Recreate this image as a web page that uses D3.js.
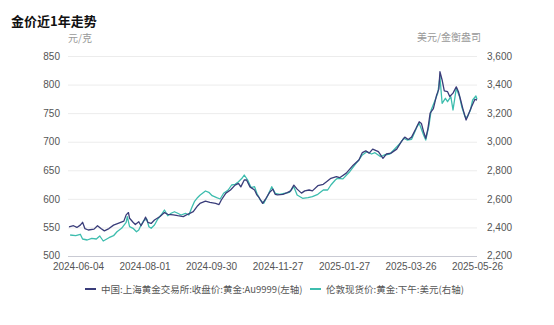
<!DOCTYPE html>
<html>
<head>
<meta charset="utf-8">
<script src="https://cdn.jsdelivr.net/npm/d3@7/dist/d3.min.js"></script>
<style>
  body { margin: 0; background: #fff; }
  svg { font-family: "Noto Sans CJK SC", "Noto Sans", sans-serif; }
</style>
</head>
<body>
<svg id="chart" width="554" height="325"></svg>
<script>
// 金价近1年走势 - two gold price series on dual axes

const xTickLabels = ["2024-06-04", "2024-08-01", "2024-09-30", "2024-11-27", "2025-01-27", "2025-03-26", "2025-05-26"];
const leftTicks = [500, 550, 600, 650, 700, 750, 800, 850];
const rightTicks = [2200, 2400, 2600, 2800, 3000, 3200, 3400, 3600];
const seriesNames = ["中国:上海黄金交易所:收盘价:黄金:Au9999(左轴)", "伦敦现货价:黄金:下午:美元(右轴)"];

// SGE Au9999 close, yuan / gram
const sgeDates = [
  "2024-05-27", "2024-05-31", "2024-06-03", "2024-06-06", "2024-06-08", "2024-06-10", "2024-06-13", "2024-06-18",
  "2024-06-21", "2024-06-24", "2024-06-27", "2024-07-01", "2024-07-05", "2024-07-09", "2024-07-14", "2024-07-16",
  "2024-07-18", "2024-07-19", "2024-07-22", "2024-07-24", "2024-07-27", "2024-07-29", "2024-07-31", "2024-08-02",
  "2024-08-04", "2024-08-07", "2024-08-10", "2024-08-15", "2024-08-19", "2024-08-22", "2024-08-27", "2024-08-31",
  "2024-09-05", "2024-09-09", "2024-09-14", "2024-09-18", "2024-09-20", "2024-09-25", "2024-09-29", "2024-10-04",
  "2024-10-07", "2024-10-09", "2024-10-13", "2024-10-17", "2024-10-21", "2024-10-24", "2024-10-26", "2024-10-29",
  "2024-10-31", "2024-11-03", "2024-11-07", "2024-11-09", "2024-11-11", "2024-11-14", "2024-11-17", "2024-11-20",
  "2024-11-23", "2024-11-25", "2024-11-27", "2024-12-02", "2024-12-06", "2024-12-09", "2024-12-12", "2024-12-15",
  "2024-12-19", "2024-12-22", "2024-12-26", "2024-12-29", "2025-01-03", "2025-01-08", "2025-01-11", "2025-01-15",
  "2025-01-20", "2025-01-23", "2025-01-29", "2025-02-04", "2025-02-09", "2025-02-12", "2025-02-15", "2025-02-18",
  "2025-02-21", "2025-02-26", "2025-03-02", "2025-03-05", "2025-03-09", "2025-03-14", "2025-03-18", "2025-03-21",
  "2025-03-24", "2025-03-27", "2025-03-31", "2025-04-03", "2025-04-05", "2025-04-07", "2025-04-09", "2025-04-11",
  "2025-04-13", "2025-04-16", "2025-04-19", "2025-04-21", "2025-04-22", "2025-04-24", "2025-04-26", "2025-04-29",
  "2025-05-01", "2025-05-04", "2025-05-07", "2025-05-09", "2025-05-11", "2025-05-13", "2025-05-16", "2025-05-18",
  "2025-05-21", "2025-05-24", "2025-05-26"
];
const sgeValues = [
  551, 553, 550, 554, 559, 548, 545.5, 547,
  553, 548, 544, 548, 554, 557, 561, 572,
  576, 566, 559, 555, 560, 553, 560, 568,
  559, 557, 563, 569, 576, 573, 572, 570.5,
  569, 573, 577.5, 588, 592, 596, 594, 592,
  590, 598, 610, 615.5, 624, 627, 621, 633,
  633, 621, 615.5, 607, 602, 592, 601, 611,
  617, 608, 607, 608, 611, 614, 624, 617,
  610, 614, 615.5, 614, 623, 625.5, 630, 636,
  639, 637, 645, 659, 668, 681, 684, 680,
  687, 682.5, 671, 678.5, 680, 687, 700, 708,
  704, 708, 723, 735, 732, 717.5, 706, 723,
  750, 758, 782, 792, 822.5, 808, 789, 787.5,
  779, 785, 796, 787.5, 773, 758, 738, 747,
  761, 774, 773
];

// London PM fix, USD / troy ounce
const lbmaDates = [
  "2024-05-28", "2024-06-02", "2024-06-06", "2024-06-08", "2024-06-12", "2024-06-16", "2024-06-20", "2024-06-23",
  "2024-06-26", "2024-07-01", "2024-07-05", "2024-07-08", "2024-07-12", "2024-07-16", "2024-07-17", "2024-07-19",
  "2024-07-22", "2024-07-25", "2024-07-27", "2024-07-29", "2024-07-31", "2024-08-03", "2024-08-05", "2024-08-07",
  "2024-08-10", "2024-08-13", "2024-08-16", "2024-08-19", "2024-08-22", "2024-08-25", "2024-08-28", "2024-08-31",
  "2024-09-03", "2024-09-07", "2024-09-10", "2024-09-13", "2024-09-15", "2024-09-18", "2024-09-20", "2024-09-25",
  "2024-09-28", "2024-10-01", "2024-10-05", "2024-10-08", "2024-10-11", "2024-10-15", "2024-10-18", "2024-10-21",
  "2024-10-24", "2024-10-27", "2024-10-29", "2024-11-01", "2024-11-04", "2024-11-07", "2024-11-09", "2024-11-12",
  "2024-11-15", "2024-11-18", "2024-11-22", "2024-11-25", "2024-11-29", "2024-12-03", "2024-12-08", "2024-12-12",
  "2024-12-15", "2024-12-20", "2024-12-25", "2024-12-29", "2025-01-03", "2025-01-08", "2025-01-12", "2025-01-15",
  "2025-01-19", "2025-01-21", "2025-01-26", "2025-02-01", "2025-02-06", "2025-02-09", "2025-02-12", "2025-02-16",
  "2025-02-20", "2025-02-23", "2025-02-28", "2025-03-03", "2025-03-08", "2025-03-12", "2025-03-17", "2025-03-20",
  "2025-03-23", "2025-03-27", "2025-04-01", "2025-04-03", "2025-04-07", "2025-04-09", "2025-04-12", "2025-04-14",
  "2025-04-17", "2025-04-20", "2025-04-22", "2025-04-24", "2025-04-27", "2025-04-29", "2025-05-02", "2025-05-04",
  "2025-05-07", "2025-05-10", "2025-05-12", "2025-05-15", "2025-05-17", "2025-05-20", "2025-05-22", "2025-05-25",
  "2025-05-26"
];
const lbmaValues = [
  2347, 2342, 2352, 2319, 2312, 2324, 2319, 2340,
  2305, 2328, 2342, 2370, 2394, 2436, 2475, 2405,
  2394, 2370, 2382, 2417, 2445, 2459, 2405, 2394,
  2417, 2459, 2487, 2522, 2482, 2499, 2510, 2499,
  2487, 2499, 2487, 2545, 2580, 2610, 2625, 2655,
  2646, 2622, 2608, 2599, 2639, 2662, 2697, 2702,
  2720, 2744, 2767, 2732, 2678, 2685, 2639, 2592,
  2569, 2615, 2685, 2639, 2632, 2639, 2646, 2685,
  2627, 2604, 2608, 2615, 2632, 2662, 2662, 2697,
  2732, 2744, 2740, 2790, 2844, 2872, 2907, 2930,
  2914, 2923, 2895, 2907, 2914, 2947, 2989, 3024,
  3012, 3017, 3105, 3129, 3047, 3012, 3117, 3222,
  3280, 3339, 3455, 3269, 3304, 3280, 3315, 3222,
  3374, 3315, 3245, 3175, 3171, 3222, 3292, 3320,
  3297
];

const parseDate = d3.timeParse("%Y-%m-%d");
const plot = { left: 68, right: 477, top: 56, bottom: 256 };
const lineStart = 69, firstTick = 78;
const colors = ["#3a3d7a", "#3dbdae"];

const svg = d3.select("#chart");

// Category-like time axis: tick labels evenly spaced, as in the source chart
const tickDates = xTickLabels.map(parseDate);
const step = (plot.right - firstTick) / (tickDates.length - 1);
const x = d3.scaleTime()
  .domain([parseDate(sgeDates[0])].concat(tickDates))
  .range([lineStart].concat(tickDates.map((d, i) => firstTick + i * step)));

const yLeft = d3.scaleLinear().domain([500, 850]).range([plot.bottom, plot.top]);
const yRight = d3.scaleLinear().domain([2200, 3600]).range([plot.bottom, plot.top]);

// Title
svg.append("text")
  .attr("x", 11)
  .attr("y", 26)
  .attr("font-size", "13px")
  .attr("font-weight", "700")
  .attr("fill", "#111")
  .text("金价近1年走势");

// Unit labels
svg.append("text")
  .attr("x", 68)
  .attr("y", 42)
  .attr("font-size", "10px")
  .attr("fill", "#999")
  .text("元/克");

svg.append("text")
  .attr("x", 481)
  .attr("y", 41)
  .attr("text-anchor", "end")
  .attr("font-size", "10px")
  .attr("fill", "#999")
  .text("美元/金衡盎司");

// Left axis with gridlines
const gLeft = svg.append("g")
  .attr("transform", `translate(${plot.left},0)`)
  .call(d3.axisLeft(yLeft)
    .tickValues(leftTicks)
    .tickSize(-(plot.right - plot.left))
    .tickPadding(8));
gLeft.select(".domain").remove();
gLeft.selectAll(".tick line")
  .attr("stroke", d => d === 500 ? "#c9cad3" : "#ececec");
gLeft.selectAll(".tick text")
  .attr("fill", "#555")
  .attr("font-size", "10px")
  .attr("dy", d => d === 500 ? "0.2em" : "0.32em");

// Right axis
const gRight = svg.append("g")
  .attr("transform", `translate(${plot.right},0)`)
  .call(d3.axisRight(yRight)
    .tickValues(rightTicks)
    .tickSize(0)
    .tickPadding(10)
    .tickFormat(d3.format(",")));
gRight.select(".domain").remove();
gRight.selectAll(".tick text")
  .attr("fill", "#555")
  .attr("font-size", "10px")
  .attr("dy", d => d === 2200 ? "0.2em" : "0.32em");

// Bottom axis
const gBottom = svg.append("g")
  .attr("transform", `translate(0,${plot.bottom})`)
  .call(d3.axisBottom(x)
    .tickValues(tickDates)
    .tickSize(0)
    .tickPadding(7)
    .tickFormat(d3.timeFormat("%Y-%m-%d")));
gBottom.select(".domain").remove();
gBottom.selectAll(".tick text")
  .attr("fill", "#555")
  .attr("font-size", "10px");

// Lines
const sgeData = sgeDates.map((d, i) => ({ date: parseDate(d), value: sgeValues[i] }));
const lbmaData = lbmaDates.map((d, i) => ({ date: parseDate(d), value: lbmaValues[i] }));

const lineLeft = d3.line().x(d => x(d.date)).y(d => yLeft(d.value));
const lineRight = d3.line().x(d => x(d.date)).y(d => yRight(d.value));

svg.append("path")
  .datum(lbmaData)
  .attr("d", lineRight)
  .attr("fill", "none")
  .attr("stroke", colors[1])
  .attr("stroke-width", 1.3)
  .attr("stroke-linejoin", "round");

svg.append("path")
  .datum(sgeData)
  .attr("d", lineLeft)
  .attr("fill", "none")
  .attr("stroke", colors[0])
  .attr("stroke-width", 1.3)
  .attr("stroke-linejoin", "round");

// Legend
const legendX = [85, 310];
const legend = svg.append("g").attr("class", "legend");
seriesNames.forEach((name, i) => {
  legend.append("line")
    .attr("x1", legendX[i])
    .attr("x2", legendX[i] + 11)
    .attr("y1", 289)
    .attr("y2", 289)
    .attr("stroke", colors[i])
    .attr("stroke-width", 2);
  legend.append("text")
    .attr("x", legendX[i] + 16)
    .attr("y", 292.5)
    .attr("font-size", "9.5px")
    .attr("fill", "#555")
    .text(name);
});
</script>
</body>
</html>
